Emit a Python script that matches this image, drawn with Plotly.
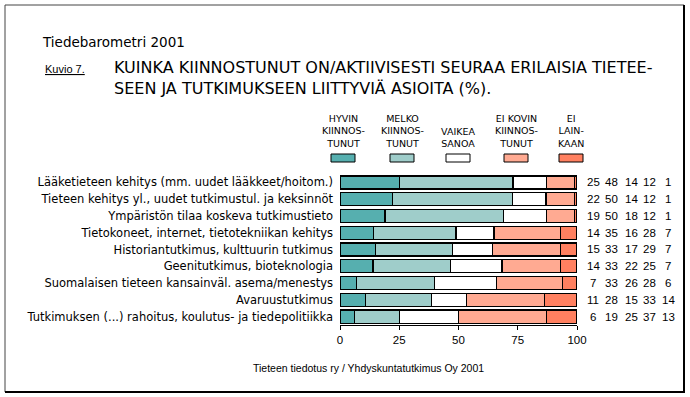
import plotly.graph_objects as go

W, H = 690, 397

categories = [
    "Lääketieteen kehitys (mm. uudet lääkkeet/hoitom.)",
    "Tieteen kehitys yl., uudet tutkimustul. ja keksinnöt",
    "Ympäristön tilaa koskeva tutkimustieto",
    "Tietokoneet, internet, tietotekniikan kehitys",
    "Historiantutkimus, kulttuurin tutkimus",
    "Geenitutkimus, bioteknologia",
    "Suomalaisen tieteen kansainväl. asema/menestys",
    "Avaruustutkimus",
    "Tutkimuksen (...) rahoitus, koulutus- ja tiedepolitiikka",
]
series_names = ["HYVIN<br>KIINNOS-<br>TUNUT", "MELKO<br>KIINNOS-<br>TUNUT", "VAIKEA<br>SANOA",
                "EI KOVIN<br>KIINNOS-<br>TUNUT", "EI<br>LAIN-<br>KAAN"]
hyvin = [25, 22, 19, 14, 15, 14, 7, 11, 6]
melko = [48, 50, 50, 35, 33, 33, 33, 28, 19]
vaikea = [14, 14, 18, 16, 17, 22, 26, 15, 25]
eikovin = [12, 12, 12, 28, 29, 25, 28, 33, 37]
eilainkaan = [1, 1, 1, 7, 7, 7, 6, 14, 13]
colors = ["#56AFAF", "#9FCDCA", "#FFFFFF", "#FFAA92", "#FF8060"]
x_ticks = [0, 25, 50, 75, 100]

series = [hyvin, melko, vaikea, eikovin, eilainkaan]
totals = [sum(s[i] for s in series) for i in range(len(categories))]

FONT = "DejaVu Sans, Liberation Sans, Arial, sans-serif"
FONT2 = "Liberation Sans, Arial, sans-serif"

def px(x):
    return x / W

def py(y):
    return 1 - y / H

fig = go.Figure()
for name, vals, col in zip(series_names, series, colors):
    fig.add_trace(go.Bar(
        y=categories,
        x=[v / t * 100 for v, t in zip(vals, totals)],
        orientation="h",
        name=name,
        marker=dict(color=col, line=dict(color="black", width=1.3)),
        width=0.78,
        showlegend=False,
        hoverinfo="skip",
    ))

annotations = []
# value columns
col_x = [593, 611, 631, 649, 668]
for cx, vals in zip(col_x, series):
    for cat, v in zip(categories, vals):
        annotations.append(dict(x=px(cx), xref="paper", y=cat, yref="y", text=str(v),
                                showarrow=False, xanchor="center", yanchor="middle",
                                font=dict(family=FONT2, size=11.5, color="black")))

# legend
leg_x = [343, 402, 458, 516, 571]
shapes = []
for cx, name, col in zip(leg_x, series_names, colors):
    annotations.append(dict(x=px(cx), y=py(151), xref="paper", yref="paper", text=name,
                            showarrow=False, xanchor="center", yanchor="bottom", align="center",
                            font=dict(family=FONT, size=9.5, color="black")))
    shapes.append(dict(type="rect", xref="paper", yref="paper",
                       x0=px(cx - 12), x1=px(cx + 12), y0=py(162), y1=py(154),
                       fillcolor=col, line=dict(color="black", width=1)))

# titles
annotations.append(dict(x=px(40), y=py(42), xref="paper", yref="paper", text="Tiedebarometri 2001",
                        showarrow=False, xanchor="left", yanchor="middle",
                        font=dict(family=FONT, size=13.5, color="black")))
annotations.append(dict(x=px(43), y=py(69), xref="paper", yref="paper", text="<u>Kuvio 7.</u>",
                        showarrow=False, xanchor="left", yanchor="middle",
                        font=dict(family=FONT2, size=11, color="black")))
annotations.append(dict(x=px(112), y=py(78), xref="paper", yref="paper",
                        text="KUINKA KIINNOSTUNUT ON/AKTIIVISESTI SEURAA ERILAISIA TIETEE-<br>SEEN JA TUTKIMUKSEEN LIITTYVIÄ ASIOITA (%).",
                        showarrow=False, xanchor="left", yanchor="middle", align="left",
                        font=dict(family=FONT, size=16, color="black")))
annotations.append(dict(x=px(368), y=py(368), xref="paper", yref="paper",
                        text="Tieteen tiedotus ry / Yhdyskuntatutkimus Oy 2001",
                        showarrow=False, xanchor="center", yanchor="middle",
                        font=dict(family=FONT2, size=10.5, color="black")))

# frame
shapes.append(dict(type="rect", xref="paper", yref="paper", x0=px(5), x1=px(684), y0=py(392), y1=py(5),
                   line=dict(color="#444444", width=1)))
shapes.append(dict(type="line", xref="paper", yref="paper", x0=px(684), x1=px(684), y0=py(392), y1=py(5),
                   line=dict(color="black", width=2)))
shapes.append(dict(type="line", xref="paper", yref="paper", x0=px(5), x1=px(685), y0=py(392), y1=py(392),
                   line=dict(color="black", width=2)))

fig.update_layout(
    width=W, height=H,
    margin=dict(l=0, r=0, t=0, b=0),
    barmode="stack",
    bargap=0.22,
    paper_bgcolor="white",
    plot_bgcolor="white",
    font=dict(family=FONT2, size=11, color="black"),
    xaxis=dict(domain=[px(340), px(577)], range=[0, 100], tickvals=x_ticks,
               showgrid=False, zeroline=False, showline=True, linecolor="black", linewidth=1,
               ticks="outside", ticklen=4, tickcolor="black", tickfont=dict(size=11.5, family=FONT2),
               fixedrange=True, automargin=False),
    yaxis=dict(domain=[py(325), py(174)], categoryorder="array", categoryarray=categories,
               autorange="reversed", showgrid=False, zeroline=False, showline=False,
               ticks="", ticklabelstandoff=6, tickfont=dict(size=11.5, family=FONT),
               fixedrange=True, automargin=False),
    annotations=annotations,
    shapes=shapes,
)

fig.write_html("out.html", config={"displayModeBar": False},
               post_script="document.body.style.margin='0';document.body.style.overflow='hidden';")
